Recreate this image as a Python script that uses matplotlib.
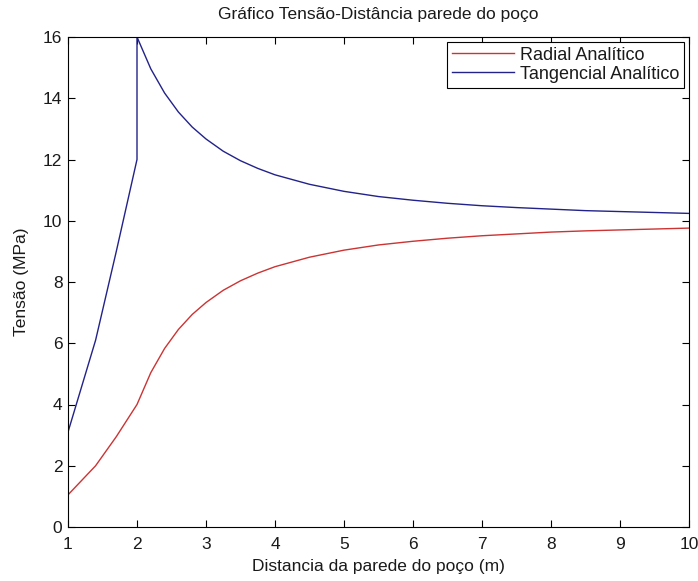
import matplotlib
matplotlib.use("Agg")
import matplotlib.pyplot as plt

# distance from the well wall (m)
r_plastic = [1.0, 1.4, 1.7, 2.0]
r_elastic = [2.0, 2.2, 2.4, 2.6, 2.8, 3.0, 3.25, 3.5, 3.75, 4.0, 4.5, 5.0,
             5.5, 6.0, 6.5, 7.0, 7.5, 8.0, 8.5, 9.0, 9.5, 10.0]

# radial stress (MPa)
radial_plastic = [1.05, 2.0, 2.95, 4.0]
radial_elastic = [4.00, 5.04, 5.83, 6.45, 6.94, 7.33, 7.73, 8.04, 8.29, 8.50,
                  8.81, 9.04, 9.21, 9.33, 9.43, 9.51, 9.57, 9.63, 9.67, 9.70,
                  9.73, 9.76]

# tangential stress (MPa)
tang_plastic = [3.1, 6.1, 9.0, 12.0]
tang_elastic = [16.00, 14.96, 14.17, 13.55, 13.06, 12.67, 12.27, 11.96, 11.71,
                11.50, 11.19, 10.96, 10.79, 10.67, 10.57, 10.49, 10.43, 10.38,
                10.33, 10.30, 10.27, 10.24]

fs = 12.5
plt.rcParams["font.family"] = ["Liberation Sans", "DejaVu Sans"]
plt.rcParams["font.size"] = fs
txt = "#1a1a1a"

fig = plt.figure(figsize=(6.98, 5.81), dpi=100)
ax = fig.add_axes([68 / 698, 1 - 527 / 581, 621 / 698, 490 / 581])

red = "#cc3333"
blue = "#22228a"

ax.plot(r_plastic + r_elastic[1:], radial_plastic + radial_elastic[1:],
        color=red, lw=1.0, label="Radial Analítico")
ax.plot(r_plastic + r_elastic, tang_plastic + tang_elastic,
        color=blue, lw=1.0, label="Tangencial Analítico")

ax.set_xlim(1, 10)
ax.set_ylim(0, 16)
ax.set_xticks(range(1, 11))
ax.set_yticks(range(0, 17, 2))
ax.tick_params(direction="in", top=True, right=True, length=5, width=0.8,
               labelsize=fs, labelcolor=txt)
ax.tick_params(axis="x", pad=7)
ax.tick_params(axis="y", pad=4)
for s in ax.spines.values():
    s.set_linewidth(0.8)

ax.set_title("Gráfico Tensão-Distância parede do poço", fontsize=fs,
             pad=13, color=txt)
ax.set_xlabel("Distancia da parede do poço (m)", fontsize=fs, labelpad=5,
              color=txt)
ax.set_ylabel("Tensão (MPa)", fontsize=fs, labelpad=10, color=txt)

leg = ax.legend(loc="upper right", fontsize=13, fancybox=False,
                framealpha=1, edgecolor="black", handlelength=3.4,
                handletextpad=0.35, borderpad=0.28, labelspacing=0.12,
                borderaxespad=0.25)
leg.get_frame().set_linewidth(0.8)
for t in leg.get_texts():
    t.set_color(txt)

fig.savefig("out.png", dpi=100, facecolor="white")
